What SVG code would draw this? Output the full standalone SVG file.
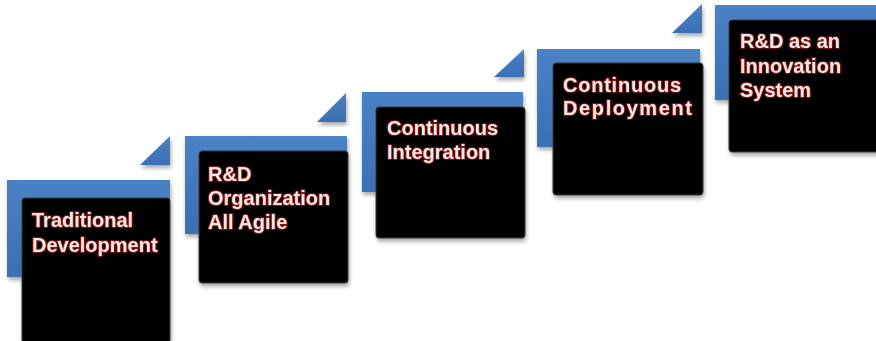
<svg xmlns="http://www.w3.org/2000/svg" width="876" height="341" viewBox="0 0 876 341">
<defs>
<linearGradient id="blueG" x1="0" y1="0" x2="0" y2="1">
<stop offset="0" stop-color="#4a82c6"/>
<stop offset="1" stop-color="#3a6fb3"/>
</linearGradient>
<filter id="sh" x="-10%" y="-10%" width="125%" height="125%">
<feGaussianBlur in="SourceAlpha" stdDeviation="2"/>
<feOffset dx="1" dy="3" result="b"/>
<feComponentTransfer><feFuncA type="linear" slope="0.35"/></feComponentTransfer>
<feMerge><feMergeNode/><feMergeNode in="SourceGraphic"/></feMerge>
</filter>
</defs>
<style>
.blue{fill:url(#blueG);}
.tri{fill:url(#blueG);}
.box{fill:#030303;stroke:#3a3a3a;stroke-width:1;}
.lbl{font-family:"Liberation Sans",Arial,sans-serif;font-weight:bold;font-size:20px;fill:#fbe6e4;stroke:#7a1616;stroke-width:2.2px;paint-order:stroke fill;stroke-linejoin:round;}
</style>
<rect width="876" height="341" fill="#ffffff"/>
<g id="step1" filter="url(#sh)">
<rect class="blue" x="7" y="180" width="163" height="97"/>
<polygon class="tri" points="140,165 170,136 170,165"/>
<rect class="box" x="22" y="198" width="148" height="145" rx="3"/>
<text class="lbl" x="32" y="227">Traditional</text>
<text class="lbl" x="32" y="252">Development</text>
</g>
<g id="step2" filter="url(#sh)">
<rect class="blue" x="185" y="136" width="162" height="98"/>
<polygon class="tri" points="317,122 346,93 346,122"/>
<rect class="box" x="199" y="151" width="149" height="132" rx="3"/>
<text class="lbl" x="208" y="181">R&amp;D</text>
<text class="lbl" x="208" y="205">Organization</text>
<text class="lbl" x="208" y="229">All Agile</text>
</g>
<g id="step3" filter="url(#sh)">
<rect class="blue" x="362" y="92" width="161" height="100"/>
<polygon class="tri" points="494,77 524,49 524,77"/>
<rect class="box" x="376" y="107" width="149" height="131" rx="3"/>
<text class="lbl" x="387" y="135">Continuous</text>
<text class="lbl" x="387" y="159">Integration</text>
</g>
<g id="step4" filter="url(#sh)">
<rect class="blue" x="537" y="49" width="163" height="98"/>
<polygon class="tri" points="672,33 702,4 702,33"/>
<rect class="box" x="553" y="63" width="150" height="132" rx="3"/>
<text class="lbl" x="563" y="92" textLength="118" lengthAdjust="spacing">Continuous</text>
<text class="lbl" x="563" y="115" textLength="129" lengthAdjust="spacing">Deployment</text>
</g>
<g id="step5" filter="url(#sh)">
<rect class="blue" x="715" y="5" width="170" height="95"/>
<rect class="box" x="729" y="20" width="160" height="132" rx="3"/>
<text class="lbl" x="740" y="48">R&amp;D as an</text>
<text class="lbl" x="740" y="73">Innovation</text>
<text class="lbl" x="740" y="97">System</text>
</g>
</svg>
